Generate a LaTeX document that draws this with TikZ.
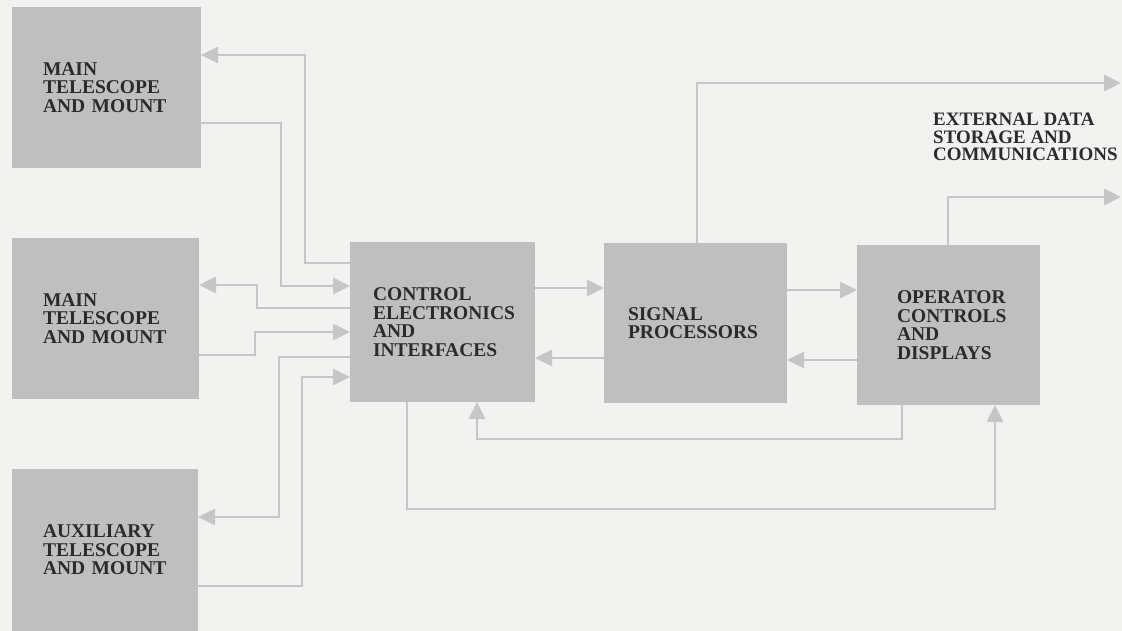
\documentclass[tikz,border=0pt]{standalone}
\usepackage{fontspec}
\setmainfont{Liberation Serif}
\usepackage{tikz}
\usetikzlibrary{arrows.meta,positioning}
\definecolor{paper}{HTML}{F2F2F0}
\definecolor{boxgray}{HTML}{BFBFBF}
\definecolor{linegray}{HTML}{C6C6C6}
\definecolor{ink}{HTML}{2B2B2B}
\newcommand{\blocktext}{\fontsize{19.5pt}{18.5pt}\selectfont\bfseries}
\newcommand{\sidetext}{\fontsize{19pt}{17.5pt}\selectfont\bfseries}

\begin{document}
\begin{tikzpicture}[
  x=1pt, y=-1pt,
  unit/.style={
    fill=boxgray,
    text=ink,
    font=\blocktext,
    align=left,
    anchor=north west,
    minimum height=161pt,
    inner ysep=0pt,
    outer sep=0pt
  },
  link/.style={
    -{Triangle[length=17pt,width=16pt]},
    draw=linegray,
    line width=2.6pt
  }
]
\fill[paper] (0,0) rectangle (1122,631);
\useasboundingbox (0,0) rectangle (1122,631);

% telescopes
\node[unit, inner xsep=31pt, text width=127pt] (main1) at (12,7)
  {MAIN\\TELESCOPE\\AND MOUNT};
\node[unit, inner xsep=31pt, text width=125pt] (main2) at (12,238)
  {MAIN\\TELESCOPE\\AND MOUNT};
\node[unit, minimum height=162pt, inner xsep=31pt, text width=124pt] (aux) at (12,469)
  {AUXILIARY\\TELESCOPE\\AND MOUNT};

% processing chain
\node[unit, minimum height=160pt, inner xsep=23pt, text width=139pt] (ctrl) at (350,242)
  {CONTROL\\ELECTRONICS\\AND\\INTERFACES};
\node[unit, minimum height=160pt, inner xsep=24pt, text width=135pt] (sig) at (604,243)
  {SIGNAL\\PROCESSORS};
\node[unit, minimum height=160pt, inner xsep=40pt, text width=103pt] (ops) at (857,245)
  {OPERATOR\\CONTROLS\\AND\\DISPLAYS};

\node[font=\sidetext, text=ink, align=left, anchor=west, inner sep=0pt] (ext) at (933,137)
  {EXTERNAL DATA\\STORAGE AND\\COMMUNICATIONS};
\coordinate (out1) at (1121,83);
\coordinate (out2) at (1121,197);

% telescopes <-> control
\draw[link] (ctrl.west |- 0,263) -- (305,263) |- (main1.east |- 0,55);
\draw[link] (main1.east |- 0,123) -- (281,123) |- (ctrl.west |- 0,286);
\draw[link] (ctrl.west |- 0,308) -- (257,308) |- (main2.east |- 0,285);
\draw[link] (main2.east |- 0,355) -- (255,355) |- (ctrl.west |- 0,332);
\draw[link] (ctrl.west |- 0,357) -- (279,357) |- (aux.east |- 0,517);
\draw[link] (aux.east |- 0,586) -- (302,586) |- (ctrl.west |- 0,377);

% chain
\draw[link] (ctrl.east |- 0,288) -- (sig.west |- 0,288);
\draw[link] (sig.west |- 0,358) -- (ctrl.east |- 0,358);
\draw[link] (sig.east |- 0,290) -- (ops.west |- 0,290);
\draw[link] (ops.west |- 0,360) -- (sig.east |- 0,360);
\draw[link] (ops.south -| 902,0) -- (902,439) -| (ctrl.south -| 477,0);
\draw[link] (ctrl.south -| 407,0) -- (407,509) -| (ops.south -| 995,0);

% external
\draw[link] (sig.north -| 697,0) |- (out1);
\draw[link] (ops.north -| 948,0) |- (out2);
\end{tikzpicture}
\end{document}
